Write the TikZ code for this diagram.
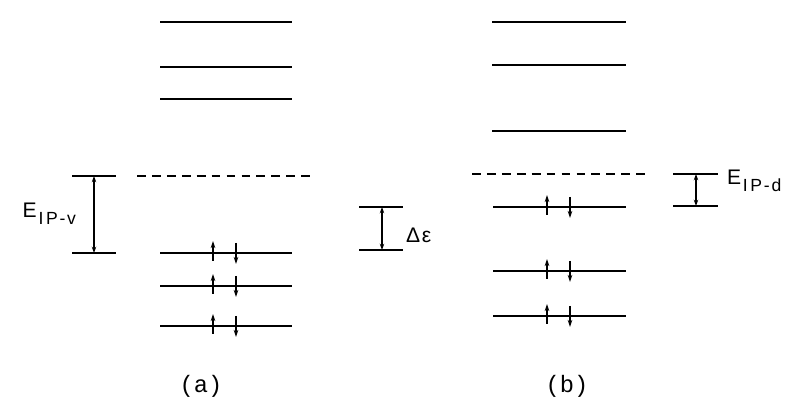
\documentclass[tikz,border=0pt]{standalone}
\usepackage{fontspec}
\setsansfont{Liberation Sans}
\setmonofont{Liberation Mono}
\usepackage{tikz}
\usetikzlibrary{arrows.meta, positioning, calc}
\newcommand{\EIP}[1]{E\kern1pt\raisebox{-0.6ex}{\fontsize{10}{11}\selectfont #1}}

\begin{document}
\begin{tikzpicture}[
  x=0.02cm, y=-0.02cm,
  level/.style={line width=0.9pt},
  vacant/.style={line width=0.9pt, dash pattern=on 5pt off 3.5pt},
  gap/.style={{Stealth[length=3.5pt,width=2.5pt]}-{Stealth[length=3.5pt,width=2.5pt]}, semithick},
  spin/.style={-{Stealth[length=4pt,width=2.6pt]}, semithick},
  lbl/.style={font=\sffamily\fontsize{12}{14}\selectfont, inner sep=1pt},
  caption/.style={font=\ttfamily\fontsize{13.5}{15}\selectfont}
]
  \useasboundingbox (0,0) rectangle (785,405);

  % (a) empty levels
  \foreach \y in {22,67,99}
    \draw[level] (160,\y) -- (292,\y);
  \draw[vacant] (137,176) -- (316,176);
  % (a) filled levels
  \foreach \y in {253,286,326} {
    \draw[level] (160,\y) -- (292,\y);
    \draw[spin] (213,\y+8) -- (213,\y-12);
    \draw[spin] (236,\y-10) -- (236,\y+11);
  }

  % (b) empty levels
  \foreach \y in {22,65,131}
    \draw[level] (492,\y) -- (626,\y);
  \draw[vacant] (472,174) -- (650,174);
  % (b) filled levels
  \foreach \y in {207,271,316} {
    \draw[level] (493,\y) -- (626,\y);
    \draw[spin] (547,\y+8) -- (547,\y-12);
    \draw[spin] (570,\y-10) -- (570,\y+11);
  }

  % E_IP-v
  \coordinate (ivtop) at (94,176);
  \coordinate (ivbot) at (94,253);
  \draw[level] (72,176) -- (116,176);
  \draw[level] (72,253) -- (116,253);
  \draw[gap] (ivtop) -- (ivbot);
  \node[lbl, anchor=east] (eipv) at (78,214) {\EIP{I\kern1.5pt P\kern1pt-\kern1pt v}};

  % delta epsilon
  \coordinate (detop) at (382,207);
  \coordinate (debot) at (382,250);
  \draw[level] (359,207) -- (403,207);
  \draw[level] (359,250) -- (403,250);
  \draw[gap] (detop) -- (debot);
  \node[lbl, anchor=west] (deps) at (404,235) {Δ\kern1pt ε};

  % E_IP-d
  \coordinate (idtop) at (696,174);
  \coordinate (idbot) at (696,206);
  \draw[level] (673,174) -- (718,174);
  \draw[level] (673,206) -- (718,206);
  \draw[gap] (idtop) -- (idbot);
  \node[lbl, anchor=west] (eipd) at (725,181) {\EIP{I\kern1.5pt P\kern1pt-\kern1pt d}};

  % captions
  \node[caption] (capa) at (201,386) {(a)};
  \node[caption] (capb) at (567,386) {(b)};
\end{tikzpicture}
\end{document}
